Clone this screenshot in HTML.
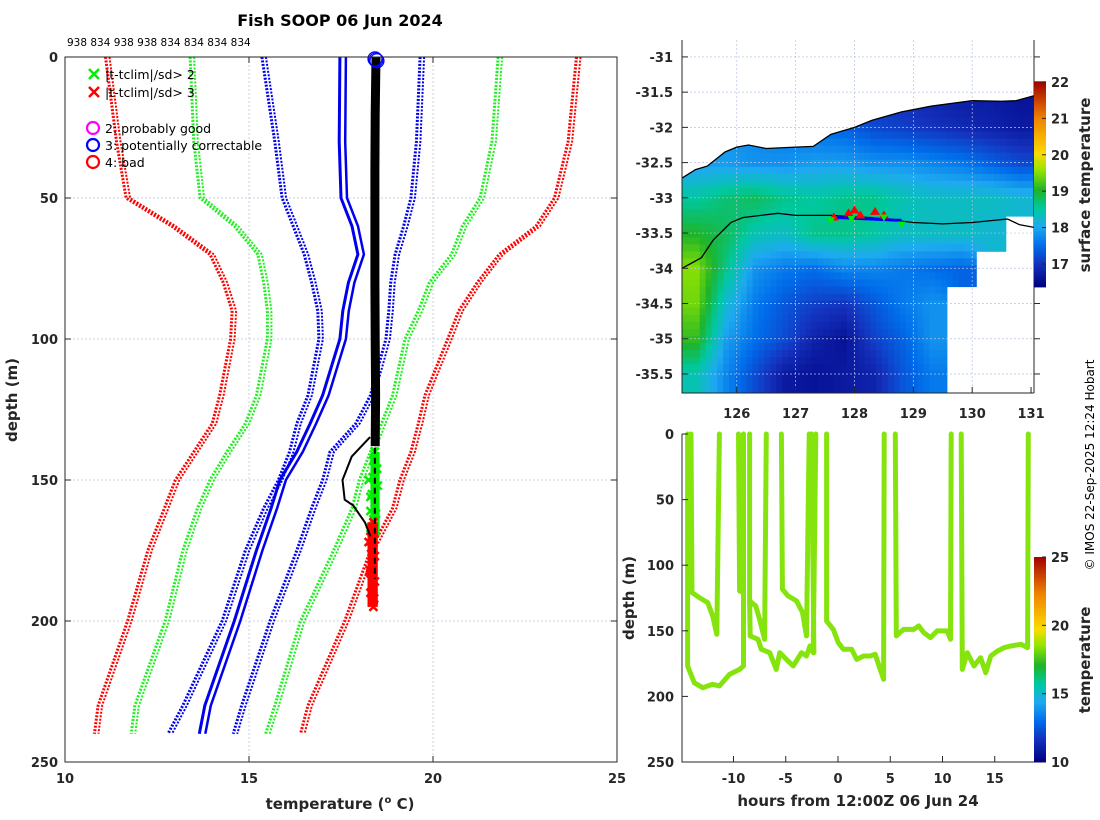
<!DOCTYPE html>
<html><head><meta charset="utf-8">
<style>
html,body{margin:0;padding:0;background:#fff;}
svg{display:block;font-family:"DejaVu Sans","Liberation Sans",sans-serif;}
.tk{font-size:13px;font-weight:bold;fill:#262626;}
.lb{font-size:15px;font-weight:bold;fill:#262626;}
</style></head>
<body>
<svg id="s" width="1100" height="820" viewBox="0 0 1100 820" xmlns="http://www.w3.org/2000/svg">
<g id="g1"></g>
<g id="g2"></g>
<g id="g3"></g>
<text x="340" y="26" text-anchor="middle" style="font-size:16px;font-weight:bold;fill:#000">Fish SOOP 06 Jun 2024</text>
<text x="67" y="46" style="font-size:10.5px;fill:#000">938 834 938 938 834 834 834 834</text>
<text transform="translate(17,400) rotate(-90)" text-anchor="middle" class="lb">depth (m)</text>
<text x="340" y="809" text-anchor="middle" class="lb">temperature (<tspan dy="-6" style="font-size:10px">o</tspan><tspan dy="6"> C)</tspan></text>
<text transform="translate(634,598) rotate(-90)" text-anchor="middle" class="lb">depth (m)</text>
<text x="858" y="806" text-anchor="middle" class="lb">hours from 12:00Z 06 Jun 24</text>
<text transform="translate(1090,185) rotate(-90)" text-anchor="middle" class="lb">surface temperature</text>
<text transform="translate(1090,660) rotate(-90)" text-anchor="middle" class="lb">temperature</text>
<text transform="translate(1094,465) rotate(-90)" text-anchor="middle" style="font-size:12px;fill:#000">© IMOS 22-Sep-2025 12:24 Hobart</text>
</svg>
<script>
// ---------- Profile data ----------
const profDepths=[0,30,50,60,70,80,90,100,120,130,140,150,160,175,200,230,240];
const redLeft  =[11.1,11.4,11.66,12.9,13.94,14.3,14.54,14.5,14.2,14.0,13.5,13.0,12.7,12.25,11.7,10.9,10.8];
const greenLeft=[13.4,13.5,13.67,14.6,15.24,15.4,15.5,15.5,15.2,14.9,14.4,13.94,13.6,13.2,12.72,11.9,11.8];
const blueLeft =[15.35,15.7,15.9,16.2,16.5,16.7,16.87,16.9,16.6,16.3,16.1,15.8,15.4,14.9,14.27,13.2,12.8];
const blueSolid=[17.47,17.45,17.5,17.8,17.96,17.7,17.55,17.47,17.0,16.66,16.3,15.84,15.6,15.2,14.6,13.8,13.65];
const blueRight=[19.65,19.55,19.4,19.2,18.97,18.85,18.8,18.72,18.3,17.9,17.2,17.0,16.7,16.3,15.57,14.8,14.57];
const greenRight=[21.77,21.6,21.28,20.8,20.5,19.9,19.6,19.24,18.9,18.6,18.3,18.0,17.8,17.3,16.4,15.7,15.45];
const redRight =[23.9,23.67,23.3,22.8,21.8,21.2,20.7,20.4,19.78,19.6,19.4,19.1,18.9,18.3,17.6,16.6,16.4];
const obsDepths=[0,20,40,60,80,100,120,138];
const obsTemps =[18.45,18.43,18.42,18.42,18.42,18.43,18.44,18.43];
const wiggleD=[134.8,141.7,150,157,159,165,170];
const wiggleT=[18.29,17.79,17.54,17.6,17.83,18.15,18.3];
const flag2D=[140,143,146,149,152,155,158,161,164,167,170,150,156,162];
const flag2T=[18.42,18.38,18.48,18.36,18.5,18.34,18.42,18.3,18.38,18.3,18.36,18.25,18.3,18.45];
const flag3D=[165,168,171,174,177,180,183,186,189,192,195,172,182,190];
const flag3T=[18.38,18.3,18.4,18.32,18.42,18.35,18.3,18.42,18.36,18.4,18.38,18.25,18.28,18.3];
const tempTicks=[10,15,20,25];
const depthTicks=[0,50,100,150,200,250];

// ---------- Map data ----------
const lonTicks=[126,127,128,129,130,131];
const latTicks=[-31,-31.5,-32,-32.5,-33,-33.5,-34,-34.5,-35,-35.5];
const sstLon0=125.07, sstLat0=-30.76, sstStep=0.5;
const sst=[
[17.0,17.0,17.0,17.0,17.0,17.0,17.0,17.0,17.0,17.0,17.0,17.0],
[17.5,17.5,17.5,17.4,17.3,17.1,17.0,16.9,16.8,16.7,16.7,16.6],
[17.8,17.8,17.7,17.6,17.5,17.4,17.2,17.1,17.0,16.9,16.8,16.7],
[17.9,17.9,17.8,17.8,17.9,17.9,17.8,17.8,17.7,17.6,17.4,17.2],
[18.5,18.7,18.8,18.6,18.5,18.6,18.6,18.4,18.3,18.3,18.3,18.2],
[19.0,18.8,18.4,18.3,18.6,18.6,18.5,18.3,18.3,18.3,18.2,null],
[19.5,18.6,17.8,17.6,17.5,17.7,17.7,17.6,17.5,17.4,null,null],
[19.4,18.2,17.6,17.3,17.1,17.0,17.3,17.6,17.8,null,null,null],
[19.1,17.9,17.5,17.2,16.8,16.6,17.1,17.4,17.8,null,null,null],
[18.4,17.7,17.2,16.7,16.6,16.7,16.8,17.3,17.6,null,null,null]];
const coastLon=[125.07,125.3,125.5,125.8,126,126.2,126.5,127,127.3,127.6,128,128.3,128.8,129.3,130,130.5,130.75,131.05];
const coastLat=[-32.72,-32.6,-32.55,-32.35,-32.28,-32.25,-32.3,-32.28,-32.27,-32.1,-32.0,-31.9,-31.78,-31.7,-31.62,-31.63,-31.62,-31.55];
const trackLon=[125.07,125.4,125.6,125.9,126.1,126.7,127,127.6,128.3,129,129.5,130,130.6,130.8,131.05];
const trackLat=[-34.0,-33.85,-33.6,-33.35,-33.28,-33.22,-33.25,-33.25,-33.28,-33.35,-33.37,-33.35,-33.3,-33.38,-33.42];
const redTriLon=[127.65,127.9,128.0,128.1,128.35,128.5];
const redTriLat=[-33.28,-33.22,-33.18,-33.25,-33.2,-33.25];
const greenTriLon=[127.6,127.95,128.5,128.8];
const greenTriLat=[-33.32,-33.3,-33.28,-33.38];
const sstTicks=[17,18,19,20,21,22];

// ---------- Time series data ----------
const tsPaths=[
 {h:[-14.39,-14.39,-13.75,-12.95,-11.99,-11.35,-10.38,-9.42,-9.04,-9.04],d:[0,176.8,189.6,193.4,190.8,192.1,183.2,179.4,176.8,0]},
 {h:[-14.07,-13.97,-13.27,-12.47,-11.99,-11.6,-11.35],d:[0,120.9,124.7,128.5,138.7,152.7,0]},
 {h:[-9.52,-9.42,-9.04],d:[0,119.6,120.9]},
 {h:[-8.46,-8.46,-7.88,-7.5,-7.02,-6.86],d:[0,127.2,131,141.2,156.5,0]},
 {h:[-8.46,-8.4,-7.66,-7.34,-6.54,-5.9,-5.58,-4.94,-4.29,-3.49,-3.01,-2.69,-2.37,-2.12],d:[127.2,153.9,156.5,164.1,166.7,179.4,166.7,171.8,176.8,166.7,169.2,161.6,166.7,0]},
 {h:[-5.42,-5.32,-4.78,-3.97,-3.4,-3.01,-2.76],d:[0,118.3,123.4,127.2,136,153.9,0]},
 {h:[-2.53,-2.31],d:[0,166.7]},
 {h:[-1.09,-1.09,-0.45,0.03,0.51,1.31,1.79,2.44,3.08,3.56,4.04,4.36,4.42],d:[0,142.5,148.9,159,164.1,164.1,171.8,169.2,169.2,167.9,179.4,187,0]},
 {h:[5.48,5.58,6.28,7.24,7.72,8.21,8.85,9.49,10.45,10.77,10.83],d:[0,153.9,148.9,148.9,146.3,151.4,155.2,150.1,150.1,156.5,0]},
 {h:[11.79,11.89,12.37,13.01,13.65,14.13,14.62,15.26,15.9,16.54,17.5,18.14,18.21],d:[0,179.4,166.7,176.8,170.5,181.9,169.2,165.4,162.8,161.6,160.3,162.8,0]}];
const hourTicks=[-10,-5,0,5,10,15];
const tsDepthTicks=[0,50,100,150,200,250];
const tsCbTicks=[10,15,20,25];

const NS='http://www.w3.org/2000/svg';
function mk(tag,attrs,parent){const e=document.createElementNS(NS,tag);for(const k in attrs)e.setAttribute(k,attrs[k]);parent.appendChild(e);return e;}
function txt(s,attrs,parent){const e=mk('text',attrs,parent);e.textContent=s;return e;}

// ---- Panel 1 ----
const g1=document.getElementById('g1');
const X1=t=>65+(t-10)*(552/15), Y1=d=>57+d*(705/250);
[15,20].forEach(t=>{const l=mk('line',{x1:X1(t),x2:X1(t),y1:57,y2:762,stroke:'#b8c4e0','stroke-width':0.8,'stroke-dasharray':'2 2'},g1);});
[50,100,150,200].forEach(d=>{const l=mk('line',{x1:65,x2:617,y1:Y1(d),y2:Y1(d),stroke:'#b8c4e0','stroke-width':0.8,'stroke-dasharray':'2 2'},g1);});
function prof(temps,color,dash,w,name,off){
  const pts=profDepths.map((d,i)=>(X1(temps[i])+off).toFixed(1)+','+Y1(d).toFixed(1)).join(' ');
  const p=mk('polyline',{points:pts,fill:'none',stroke:color,'stroke-width':w,'stroke-dasharray':dash},g1);
  
  
}
[[redLeft,'#ff0000','red-left'],[greenLeft,'#22ee22','green-left'],[blueLeft,'#0000ee','blue-left'],[blueRight,'#0000ee','blue-right'],[greenRight,'#22ee22','green-right'],[redRight,'#ff0000','red-right']].forEach(a=>{prof(a[0],a[1],'2 1.5',3,a[2]+'-profile',0);prof(a[0],a[1],'2 1.5',2,a[2]+'-profile-b',4);});
prof(blueSolid,'#0000ee','none',3,'blue-solid-profile',0);
prof(blueSolid,'#0000ee','none',2.5,'blue-solid-profile-b',6);
function xmark(t,d,color,name){const x=X1(t),y=Y1(d),s=4;
  const p=mk('path',{d:`M${x-s},${y-s}L${x+s},${y+s}M${x-s},${y+s}L${x+s},${y-s}`,stroke:color,'stroke-width':2.5,fill:'none'},g1);
  
  }
flag2D.forEach((d,i)=>xmark(flag2T[i],d,'#00ee00','flag-2sd-marker'));
const gband=mk('rect',{x:X1(18.3),y:Y1(140),width:X1(18.55)-X1(18.3),height:Y1(170)-Y1(140),fill:'#00ee00'},g1);

flag3D.forEach((d,i)=>xmark(flag3T[i],d,'#ff0000','flag-3sd-marker'));
const rband=mk('rect',{x:X1(18.22),y:Y1(165),width:X1(18.5)-X1(18.22),height:Y1(195)-Y1(165),fill:'#ff0000'},g1);

const op=obsDepths.map((d,i)=>X1(obsTemps[i]).toFixed(1)+','+Y1(d).toFixed(1)).join(' ');
const ob=mk('polyline',{points:op,fill:'none',stroke:'#000','stroke-width':9},g1);

const wp=wiggleD.map((d,i)=>X1(wiggleT[i]).toFixed(1)+','+Y1(d).toFixed(1)).join(' ');
const wl=mk('polyline',{points:wp,fill:'none',stroke:'#000','stroke-width':2},g1);

const dl=mk('line',{x1:X1(18.42),x2:X1(18.42),y1:Y1(135),y2:Y1(185),stroke:'#000','stroke-width':2,'stroke-dasharray':'6 4'},g1);

[0,1,2].forEach(k=>{const c=mk('circle',{cx:X1(18.45)+k-1,cy:Y1(1)+k-1,r:7,fill:'none',stroke:'#0000ff','stroke-width':1.2},g1);});
mk('rect',{x:65,y:57,width:552,height:705,fill:'none',stroke:'#262626','stroke-width':1},g1);
tempTicks.forEach(t=>{mk('line',{x1:X1(t),x2:X1(t),y1:762,y2:756,stroke:'#262626'},g1);mk('line',{x1:X1(t),x2:X1(t),y1:57,y2:63,stroke:'#262626'},g1);const e=txt(t,{x:X1(t),y:783,'text-anchor':'middle',class:'tk'},g1);});
depthTicks.forEach(d=>{mk('line',{x1:65,x2:71,y1:Y1(d),y2:Y1(d),stroke:'#262626'},g1);mk('line',{x1:617,x2:611,y1:Y1(d),y2:Y1(d),stroke:'#262626'},g1);const e=txt(d,{x:58,y:Y1(d)+5,'text-anchor':'end',class:'tk'},g1);});
const lg=mk('g',{},g1);
[['#00ee00','|t-tclim|/sd> 2',74],['#ff0000','|t-tclim|/sd> 3',92]].forEach(a=>{const x=94,y=a[2];mk('path',{d:`M${x-5},${y-5}L${x+5},${y+5}M${x-5},${y+5}L${x+5},${y-5}`,stroke:a[0],'stroke-width':2.5},lg);const e=txt(a[1],{x:105,y:y+5,style:'font-size:12.5px;fill:#000'},lg);});
[['#ff00ff','2: probably good',128],['#0000ff','3: potentially correctable',145],['#ff0000','4: bad',162]].forEach(a=>{mk('circle',{cx:93,cy:a[2],r:6,fill:'none',stroke:a[0],'stroke-width':2.2},lg);const e=txt(a[1],{x:105,y:a[2]+5,style:'font-size:12.5px;fill:#000'},lg);});

// ---- Colormap (jet-like) ----
const jetStops=[[0,[0,0,128]],[0.11,[20,50,190]],[0.2,[0,110,235]],[0.29,[30,170,240]],[0.38,[0,200,160]],[0.47,[30,180,40]],[0.57,[150,230,0]],[0.645,[250,220,0]],[0.82,[240,130,0]],[1,[160,0,0]]];
function cmap(f){f=Math.max(0,Math.min(1,f));for(let i=1;i<jetStops.length;i++){if(f<=jetStops[i][0]){const a=jetStops[i-1],b=jetStops[i],u=(f-a[0])/(b[0]-a[0]);const c=a[1].map((v,k)=>Math.round(v+(b[1][k]-v)*u));return `rgb(${c})`;}}return 'rgb(160,0,0)';}

// ---- Panel 2 map ----
const g2=document.getElementById('g2');
const MX=l=>682+(l-125.07)*(352/5.98), MY=la=>40+(-30.76-la)*(353/5.01);
const sMin=16.37,sMax=22;
function sstAt(lon,lat){
  const fc=(lon-sstLon0)/sstStep-0.5, fr=(sstLat0-lat)/sstStep-0.5;
  const r=Math.floor((sstLat0-lat)/sstStep), c=Math.floor((lon-sstLon0)/sstStep);
  if(r<0||r>=sst.length||c<0||c>=sst[0].length||sst[r][c]===null) return null;
  let s=0,w=0;const r0=Math.floor(fr),c0=Math.floor(fc);
  for(let dr=0;dr<2;dr++)for(let dc=0;dc<2;dc++){const rr=Math.max(0,Math.min(sst.length-1,r0+dr)),cc=Math.max(0,Math.min(sst[0].length-1,c0+dc));const v=sst[rr][cc];if(v===null)continue;const ww=(dr?fr-r0:1-(fr-r0))*(dc?fc-c0:1-(fc-c0));s+=v*ww;w+=ww;}
  return w>0?s/w:sst[r][c];
}
const cell=0.1;
for(let lon=sstLon0;lon<131.07;lon+=cell){for(let lat=sstLat0;lat>-35.77;lat-=cell){
  const v=sstAt(lon+cell/2,lat-cell/2);if(v===null)continue;
  const x0=MX(lon),x1=Math.min(MX(lon+cell),1034),y0=MY(lat),y1=Math.min(MY(lat-cell),393);
  const e=mk('rect',{x:x0.toFixed(1),y:y0.toFixed(1),width:(x1-x0+0.5).toFixed(1),height:(y1-y0+0.5).toFixed(1),fill:cmap((v-sMin)/(sMax-sMin))},g2);
  
  }}
let lp='M682,40 '+coastLon.map((l,i)=>'L'+MX(l).toFixed(1)+','+MY(coastLat[i]).toFixed(1)).join(' ')+' L1034,40 Z';
const land=mk('path',{d:lp,fill:'#fff'},g2);
[126,127,128,129,130].forEach(l=>{const e=mk('line',{x1:MX(l),x2:MX(l),y1:40,y2:393,stroke:'#b8c4e0','stroke-width':0.7,'stroke-dasharray':'2 2'},g2);});
latTicks.forEach(la=>{const e=mk('line',{x1:682,x2:1034,y1:MY(la),y2:MY(la),stroke:'#b8c4e0','stroke-width':0.7,'stroke-dasharray':'2 2'},g2);});
const cl=mk('polyline',{points:coastLon.map((l,i)=>MX(l).toFixed(1)+','+MY(coastLat[i]).toFixed(1)).join(' '),fill:'none',stroke:'#000','stroke-width':1.3},g2);

const tr=mk('polyline',{points:trackLon.map((l,i)=>MX(l).toFixed(1)+','+MY(trackLat[i]).toFixed(1)).join(' '),fill:'none',stroke:'#000','stroke-width':1.3},g2);

const bl=mk('line',{x1:MX(127.7),x2:MX(128.8),y1:MY(-33.28),y2:MY(-33.32),stroke:'#0000ff','stroke-width':3},g2);

redTriLon.forEach((l,i)=>{const x=MX(l),y=MY(redTriLat[i]);const e=mk('path',{d:`M${x},${y-5}L${x+5},${y+3}L${x-5},${y+3}Z`,fill:'#ff0000'},g2);});
greenTriLon.forEach((l,i)=>{const x=MX(l),y=MY(greenTriLat[i]);const e=mk('path',{d:`M${x-4},${y-3}L${x+4},${y-3}L${x},${y+4}Z`,fill:'#00ee00'},g2);});
mk('path',{d:'M682,40V393H1034',fill:'none',stroke:'#262626'},g2);
mk('line',{x1:1034,x2:1034,y1:40,y2:393,stroke:'#262626'},g2);
lonTicks.forEach(l=>{mk('line',{x1:MX(l),x2:MX(l),y1:393,y2:387,stroke:'#262626'},g2);const e=txt(l,{x:MX(l),y:418,'text-anchor':'middle',class:'tk'},g2);});
latTicks.forEach(la=>{mk('line',{x1:682,x2:688,y1:MY(la),y2:MY(la),stroke:'#262626'},g2);mk('line',{x1:1034,x2:1040,y1:MY(la),y2:MY(la),stroke:'#262626'},g2);const e=txt(la,{x:673,y:MY(la)+5,'text-anchor':'end',class:'tk'},g2);});
const CY1=v=>82+(22-v)*36.4;
for(let v=sMin;v<22;v+=0.05){mk('rect',{x:1034,y:CY1(v+0.05).toFixed(1),width:12,height:2.3,fill:cmap((v-sMin)/(sMax-sMin))},g2);}
sstTicks.forEach(v=>{mk('line',{x1:1046,x2:1042,y1:CY1(v),y2:CY1(v),stroke:'#262626'},g2);const e=txt(v,{x:1051,y:CY1(v)+5,class:'tk'},g2);});

// ---- Panel 3 timeseries ----
const g3=document.getElementById('g3');
const TX=h=>838+h*10.45, TY=d=>434+d*1.312;
tsPaths.forEach(p=>{const e=mk('polyline',{points:p.h.map((h,i)=>TX(h).toFixed(1)+','+TY(p.d[i]).toFixed(1)).join(' '),fill:'none',stroke:'#86e40e','stroke-width':5,'stroke-linejoin':'round','stroke-linecap':'round'},g3);
  
  });
mk('path',{d:'M682,434V762H1034',fill:'none',stroke:'#262626'},g3);
hourTicks.forEach(h=>{mk('line',{x1:TX(h),x2:TX(h),y1:762,y2:756,stroke:'#262626'},g3);const e=txt(h,{x:TX(h),y:783,'text-anchor':'middle',class:'tk'},g3);});
tsDepthTicks.forEach(d=>{mk('line',{x1:682,x2:688,y1:TY(d),y2:TY(d),stroke:'#262626'},g3);const e=txt(d,{x:674,y:TY(d)+5,'text-anchor':'end',class:'tk'},g3);});
const CY2=v=>557+(25-v)*13.67;
for(let v=10;v<25;v+=0.1){mk('rect',{x:1034,y:CY2(v+0.1).toFixed(1),width:12,height:1.8,fill:cmap((v-10)/15)},g3);}
tsCbTicks.forEach(v=>{mk('line',{x1:1046,x2:1042,y1:CY2(v),y2:CY2(v),stroke:'#262626'},g3);const e=txt(v,{x:1051,y:CY2(v)+5,class:'tk'},g3);});
</script>
</body></html>
